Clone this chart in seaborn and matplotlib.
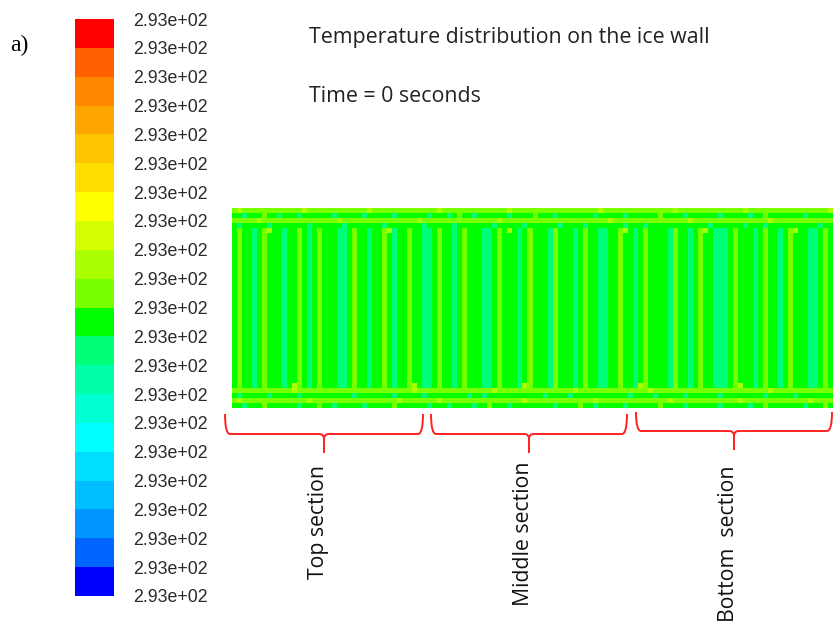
import numpy as np
import matplotlib
matplotlib.use("Agg")
import matplotlib.pyplot as plt
from matplotlib.colors import ListedColormap
from matplotlib.path import Path
from matplotlib.patches import PathPatch
import seaborn as sns

# ---------------- data ----------------
# colour levels of the contour legend, bottom (blue) -> top (red)
level_colors = [
    "#0000ff", "#0064ff", "#0096ff", "#00beff", "#00deff",
    "#00ffff", "#00ffd2", "#00ffaa", "#00ff78", "#00ff00",
    "#78ff00", "#aaff00", "#d4ff00", "#ffff00", "#ffde00",
    "#ffc300", "#ffa500", "#ff8800", "#ff6000", "#ff0000",
]
level_labels = ["2.93e+02"] * 21

# field levels: c=8 (cyan-green), g=9 (green), y=10, l=11 (yellow-green)
code_level = {"c": 8, "g": 9, "y": 10, "l": 11}

top_rows = [
    "ylyyyyyyyy" "yyyylyyyyy" "yyyyyyylyy" "yyyyyyyyyy" "ylyyyyyyyy" "yyyyylyyyy"
    "yyyyyyyyyy" "yyylyyyyyy" "yyyyyyyyly" "yyyyyyyyyy" "yylyyyyyyy" "yyyyyyyyyl",
    "ggcgggyggc" "gggcgggggg" "cgggggcggg" "ggcggggggc" "gggcgyggcg" "gggggcgggg"
    "ygggcggggg" "ggcgggggcg" "gggggygggg" "cggggggcgg" "gggcggyggg" "ggggcggggg",
    "yyyyylyyyy" "yyyyyyyyyy" "ylyyyyyyyy" "yyyyyyylyy" "yyyyyyyyyy" "yyylyyyyyy"
    "yyyyyyyyyy" "yyyyylyyyy" "yyyyyyyyyy" "ylyyyyyyyy" "yyyyyyylyy" "yyyyyyyyyy",
    "gcgggggcgg" "gggggcgggg" "ggcggggggg" "cgggggggcg" "ggggcggggg" "ggcgggggcg"
    "gggggcgggg" "cgggggggcg" "ggcggggggg" "gggggcgggg" "ggcgggcggg" "gggggggcgg",
    "gyggcgylgg" "cggygcgygg" "gccgyggcgg" "ylcggyggcc" "gyggcgyggg" "ccgyglgcgy"
    "gggcygggcg" "yggccggylg" "cgyggggcyg" "gcgylgcccg" "ygggcgyggc" "gylggccgyg",
]
middle_row = (
    "gyggcgyggg" "cggygcgygg" "gccgyggcgg" "ygcggyggcc" "gyggcgyggg" "ccgygggcgy"
    "gggcygggcg" "yggccggygg" "cgyggggcyg" "gcgyggcccg" "ygggcgyggc" "gygggccgyg"
)
middle_count = 30
bottom_rows = [
    "gyggcgyggg" "cglygcgygg" "gccgyggcgg" "ygcggylgcc" "gyggcgyggg" "ccgygggcly"
    "gggcygggcg" "yggccggygg" "clyggggcyg" "gcgyggcccg" "ylggcgyggc" "gygggccgyg",
    "yyyyyyyyyy" "yylyyyyyyy" "yyyyyyyyyy" "yyyyyylyyy" "yyyyyyyyyy" "yylyyyyyyy"
    "yyyyyyyyly" "yyyyyyyyyy" "yyylyyyyyy" "yyyyyyyyyy" "yyyyyyylyy" "yyyyyyyyyy",
    "gcgggggcgg" "gggcgggggg" "ggggcggggg" "ggcgggggcg" "gggggggcgg" "cggggggggg"
    "ggcggggcgg" "gggggggggc" "ggggcggggg" "cggggggcgg" "ggggggcggg" "ggcggggggg",
    "ylyyyyyyyy" "yyyyylyyyy" "yyyyyyyyyy" "yyylyyyyyy" "ylyyyyyyyy" "yyyyyyyyly"
    "yyyyyyyyyy" "yylyyyyyyy" "yyyyyyylyy" "yyyyyyyyyy" "ylyyyyyyyy" "yyyyylyyyy",
    "ggcgggyggg" "gggcgggygg" "cgggggcggg" "ggyggggggc" "gggcggggcg" "gygggcgggg"
    "ggggcggggy" "ggcgggggcg" "gggggygggg" "cggggggcgg" "gggcggyggg" "ggggcgggyg",
]
sections = ["Top section", "Middle section", "Bottom  section"]
title = "Temperature distribution on the ice wall"
subtitle = "Time = 0 seconds"

# ---------------- build field ----------------
rows = top_rows + [middle_row] * middle_count + bottom_rows
field = np.array([[code_level[ch] for ch in r] for r in rows], dtype=float)

cmap = ListedColormap(level_colors)

sns.set_style("white")
W, H = 833, 627
fig = plt.figure(figsize=(W / 100, H / 100), dpi=100)

ax = fig.add_axes([232 / W, 1 - 408 / H, 601 / W, 200 / H])
cax = fig.add_axes([75 / W, 1 - 596 / H, 39 / W, 577 / H])

sns.heatmap(field, ax=ax, cmap=cmap, vmin=-0.5, vmax=19.5,
            cbar_ax=cax, xticklabels=False, yticklabels=False)
ax.set_xlabel("")
ax.set_ylabel("")

cbar = ax.collections[0].colorbar
cbar.set_ticks(np.arange(-0.5, 20.0, 1.0))
cbar.set_ticklabels(level_labels)
cbar.outline.set_visible(False)
cax.tick_params(length=0, pad=14, labelsize=12.8, labelcolor="#2a2a2a")
for t in cax.get_yticklabels():
    t.set_family(["Liberation Sans", "DejaVu Sans"])
    t.set_fontstretch("condensed")

# ---------------- texts ----------------
fig.text(10 / W, 1 - 45 / H, "a)", family="Liberation Serif", fontsize=17,
         va="center", ha="left", color="black")
fig.text(309 / W, 1 - 38 / H, title, family="Open Sans", fontsize=15.4,
         va="center", ha="left", color="#222222")
fig.text(309 / W, 1 - 97 / H, subtitle, family="Open Sans", fontsize=15.4,
         va="center", ha="left", color="#222222")

# ---------------- brackets (annotation overlay) ----------------
ov = fig.add_axes([0, 0, 1, 1])
ov.set_xlim(0, W)
ov.set_ylim(H, 0)
ov.axis("off")
ov.patch.set_alpha(0)

spans = [(225, 423, 414, 434, 453), (431, 627, 414, 434, 453), (636, 832, 412, 431, 450)]
text_tops = [465, 462, 465]
for (x0, x1, ytop, yh, ybot), name, tt in zip(spans, sections, text_tops):
    cx = (x0 + x1) / 2
    r = 5
    verts = [
        (x0, ytop), (x0, yh), (x0 + r, yh),
        (cx - r, yh), (cx, yh), (cx, yh + r),
        (cx, ybot),
        (cx, yh + r), (cx, yh), (cx + r, yh),
        (x1 - r, yh), (x1, yh), (x1, ytop),
    ]
    codes = [Path.MOVETO, Path.CURVE3, Path.CURVE3,
             Path.LINETO, Path.CURVE3, Path.CURVE3,
             Path.LINETO,
             Path.MOVETO, Path.CURVE3, Path.CURVE3,
             Path.LINETO, Path.CURVE3, Path.CURVE3]
    ov.add_patch(PathPatch(Path(verts, codes), fill=False, edgecolor="#ff2020", lw=1.4))
    ov.text(cx - 5, tt, name, rotation=90, ha="center", va="top",
            family="Open Sans", fontsize=15.3, color="#111111")

fig.savefig("out.png", dpi=100, facecolor="white")
